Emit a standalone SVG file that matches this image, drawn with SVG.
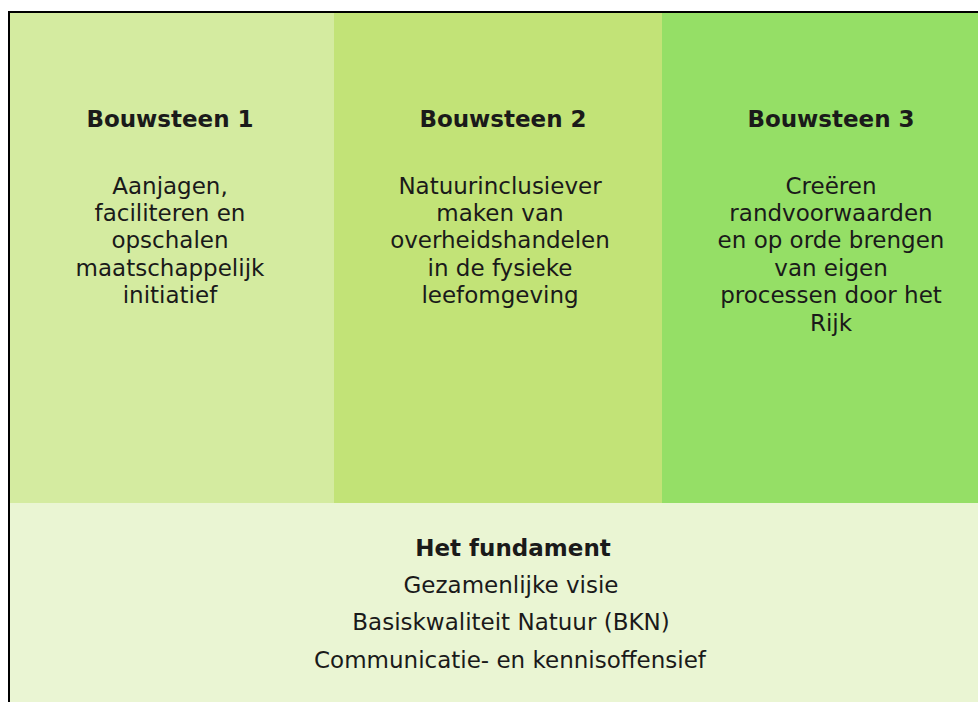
<svg xmlns="http://www.w3.org/2000/svg" width="978" height="702" viewBox="0 0 978 702">
<style>
text{font-family:"DejaVu Sans","Verdana",sans-serif;fill:#1a1a1a;text-anchor:middle;font-size:23px}
.t{font-weight:bold}
</style>
<rect width="978" height="702" fill="#ffffff"/>
<g id="bouwsteen1">
<rect x="9" y="12" width="325" height="492" fill="#d4eba0"/>
<text class="t" x="170" y="127">Bouwsteen 1</text>
<text x="170" y="194">Aanjagen,</text>
<text x="170" y="221">faciliteren en</text>
<text x="170" y="248">opschalen</text>
<text x="170" y="275.5">maatschappelijk</text>
<text x="170" y="303">initiatief</text>
</g>
<g id="bouwsteen2">
<rect x="334" y="12" width="328" height="491" fill="#c2e377"/>
<text class="t" x="503" y="127">Bouwsteen 2</text>
<text x="500" y="194">Natuurinclusiever</text>
<text x="500" y="221">maken van</text>
<text x="500" y="248">overheidshandelen</text>
<text x="500" y="275.5">in de fysieke</text>
<text x="500" y="303">leefomgeving</text>
</g>
<g id="bouwsteen3">
<rect x="662" y="12" width="316" height="491" fill="#95df66"/>
<text class="t" x="831" y="127">Bouwsteen 3</text>
<text x="831" y="194">Creëren</text>
<text x="831" y="221">randvoorwaarden</text>
<text x="831" y="248">en op orde brengen</text>
<text x="831" y="275.5">van eigen</text>
<text x="831" y="303">processen door het</text>
<text x="831" y="331">Rijk</text>
</g>
<g id="fundament">
<rect x="9" y="503" width="969" height="199" fill="#eaf5d3"/>
<text class="t" x="513" y="556">Het fundament</text>
<text x="511" y="593">Gezamenlijke visie</text>
<text x="511" y="630">Basiskwaliteit Natuur (BKN)</text>
<text x="510" y="668">Communicatie- en kennisoffensief</text>
</g>
<g id="border" fill="none" stroke="#000" stroke-width="2">
<path d="M9 702 V12 H978"/>
</g>
</svg>
